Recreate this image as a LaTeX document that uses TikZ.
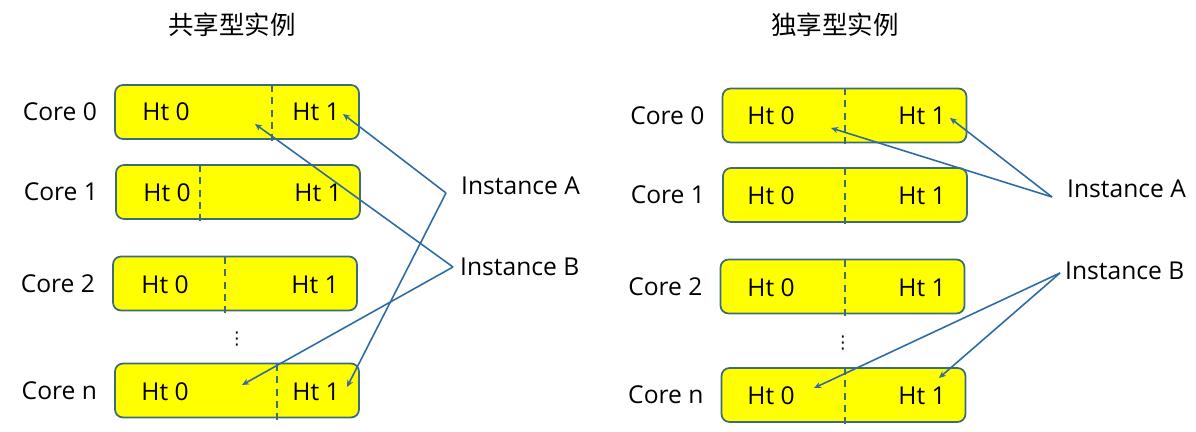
\documentclass[tikz,border=0pt]{standalone}
\usepackage{fontspec}
\setmainfont{Open Sans}
\newfontfamily\cjk{Noto Sans CJK SC}
\newfontfamily\symfont{DejaVu Sans}
\usetikzlibrary{arrows.meta,positioning}
\definecolor{htyellow}{HTML}{FFFF00}
\definecolor{boxedge}{HTML}{3D6B7A}
\definecolor{linkblue}{HTML}{2E6BA6}

\begin{document}
\begin{tikzpicture}[x=0.02cm, y=-0.02cm,
    every node/.style={font=\fontsize{14}{16}\selectfont},
    corebox/.style={draw=boxedge, line width=1pt, fill=htyellow, rounded corners=0.16cm,
        minimum width=4.88cm, minimum height=1.08cm},
    divline/.style={draw=boxedge, line width=0.8pt, dash pattern=on 4pt off 3pt},
    dotsnode/.style={inner sep=0pt, font=\symfont\fontsize{10}{11}\selectfont},
    link/.style={draw=linkblue, line width=0.9pt, -{Stealth[length=4pt,width=3.5pt]}}]
    \useasboundingbox (0,0) rectangle (1196,432);

    % Shared instances
    \node[font=\cjk\fontsize{14.5}{17}\selectfont] (shared-title) at (232,25) {共享型实例};

    \node[corebox] (shared-core0) at (237,112) {};
    \node[corebox] (shared-core1) at (238,192) {};
    \node[corebox] (shared-core2) at (235,283.5) {};
    \node[corebox] (shared-coren) at (237,390.5) {};

    \draw[divline] (272,85) -- (272,143);
    \draw[divline] (200,165) -- (200,222);
    \draw[divline] (225,257) -- (225,314);
    \draw[divline] (277,364) -- (277,421);

    \node[left=0.22cm of shared-core0] (shared-label0) {Core 0};
    \node[left=0.22cm of shared-core1] (shared-label1) {Core 1};
    \node[left=0.22cm of shared-core2] (shared-label2) {Core 2};
    \node[left=0.22cm of shared-coren] (shared-labeln) {Core n};

    \node (shared-ht00) at (166,112) {Ht 0};
    \node (shared-ht01) at (316,112) {Ht 1};
    \node (shared-ht10) at (167,193) {Ht 0};
    \node (shared-ht11) at (318,193) {Ht 1};
    \node (shared-ht20) at (165,285) {Ht 0};
    \node (shared-ht21) at (315,285) {Ht 1};
    \node (shared-htn0) at (165,392) {Ht 0};
    \node (shared-htn1) at (316,392) {Ht 1};

    \node[dotsnode] (shared-dots) at (237,339) {⋮};

    \node[anchor=west] (shared-instA) at (455,186) {Instance A};
    \node[anchor=west] (shared-instB) at (454,267) {Instance B};

    \coordinate (shared-vA) at (446,193);
    \coordinate (shared-vB) at (453,267);
    \coordinate (shared-tip01) at (343,114);
    \coordinate (shared-tip00) at (255,124);
    \coordinate (shared-tipn0) at (242,385);
    \coordinate (shared-tipn1) at (347,387);

    \draw[link] (shared-vA) -- (shared-tip01);
    \draw[link] (shared-vA) -- (shared-tipn1);
    \draw[link] (shared-vB) -- (shared-tip00);
    \draw[link] (shared-vB) -- (shared-tipn0);

    % Exclusive instances
    \node[font=\cjk\fontsize{14.5}{17}\selectfont] (excl-title) at (835,25) {独享型实例};

    \node[corebox] (excl-core0) at (844.5,115.5) {};
    \node[corebox] (excl-core1) at (845,195) {};
    \node[corebox] (excl-core2) at (842.5,286.5) {};
    \node[corebox] (excl-coren) at (843.5,395) {};

    \draw[divline] (845,88) -- (845,146);
    \draw[divline] (845,168) -- (845,225);
    \draw[divline] (845,260) -- (845,317);
    \draw[divline] (845,368) -- (845,425);

    \node[left=0.22cm of excl-core0] (excl-label0) {Core 0};
    \node[left=0.22cm of excl-core1] (excl-label1) {Core 1};
    \node[left=0.22cm of excl-core2] (excl-label2) {Core 2};
    \node[left=0.22cm of excl-coren] (excl-labeln) {Core n};

    \node (excl-ht00) at (771,116) {Ht 0};
    \node (excl-ht01) at (922,116) {Ht 1};
    \node (excl-ht10) at (771,196) {Ht 0};
    \node (excl-ht11) at (922,196) {Ht 1};
    \node (excl-ht20) at (771,288) {Ht 0};
    \node (excl-ht21) at (922,288) {Ht 1};
    \node (excl-htn0) at (771,396) {Ht 0};
    \node (excl-htn1) at (922,396) {Ht 1};

    \node[dotsnode] (excl-dots) at (843,343) {⋮};

    \node[anchor=west] (excl-instA) at (1061,189) {Instance A};
    \node[anchor=west] (excl-instB) at (1059,271) {Instance B};

    \coordinate (excl-vA) at (1052,197);
    \coordinate (excl-vB) at (1060,273);
    \coordinate (excl-tip01) at (950,118);
    \coordinate (excl-tip00) at (831,128);
    \coordinate (excl-tipn0) at (814,388);
    \coordinate (excl-tipn1) at (939,378);

    \draw[link] (excl-vA) -- (excl-tip01);
    \draw[link] (excl-vA) -- (excl-tip00);
    \draw[link] (excl-vB) -- (excl-tipn0);
    \draw[link] (excl-vB) -- (excl-tipn1);
\end{tikzpicture}
\end{document}
